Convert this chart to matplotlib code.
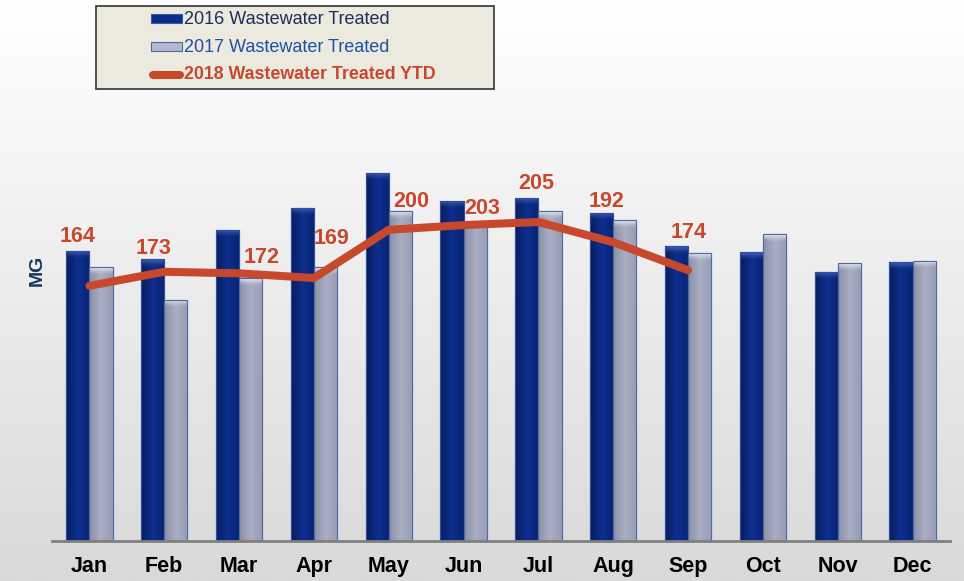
import numpy as np
import matplotlib.pyplot as plt
from matplotlib.colors import LinearSegmentedColormap, to_rgb
from matplotlib.patches import Rectangle
from matplotlib.lines import Line2D

# values (MG)
months = ['Jan', 'Feb', 'Mar', 'Apr', 'May', 'Jun', 'Jul', 'Aug', 'Sep', 'Oct', 'Nov', 'Dec']
ww_2016 = [186.5, 181, 200, 214, 236.5, 218.5, 220.5, 211, 189.5, 185.5, 173, 179]
ww_2017 = [176, 155, 169, 176, 212, 205, 212, 206, 185, 197, 178.5, 180]
ww_2018 = [164, 173, 172, 169, 200, 203, 205, 192, 174]
# where each 2018 label sits relative to its point (pixels)
label_dx = [-12, -11, 23, 18, 22, 19, -2, -7, 1]
label_dy = [49, 23, 16, 40, 28, 17, 38, 41, 38]

plt.rcParams['font.family'] = ['Liberation Sans', 'DejaVu Sans']

RED = '#c8482e'

fig = plt.figure(figsize=(9.64, 5.81), dpi=100)

# background gradient, white to light gray
bg = fig.add_axes([0, 0, 1, 1], zorder=-10)
bg_cmap = LinearSegmentedColormap.from_list('bg', ['#d9d9d9', '#ececec', '#ffffff'])
bg.imshow(np.linspace(0, 1, 256).reshape(-1, 1), aspect='auto', cmap=bg_cmap,
          extent=(0, 1, 0, 1), origin='lower')
bg.axis('off')

ax = fig.add_axes([52 / 964, 40 / 581, 898 / 964, 441 / 581])
ax.patch.set_alpha(0)

x = np.arange(len(months))
w = 0.31


def shade_bar(patch, edge, mid, right, top):
    # paint a small gradient image inside the bar, lighter cap on top
    x0, y0 = patch.get_x(), patch.get_y()
    bw, bh = patch.get_width(), patch.get_height()
    nrows = max(int(bh * 2), 2)
    cols = np.linspace(0, 1, 24)
    e, m, r, t = (np.array(to_rgb(c)) for c in (edge, mid, right, top))
    prof = np.where(cols[:, None] < 0.5,
                    e + (m - e) * (cols[:, None] / 0.5),
                    m + (r - m) * ((cols[:, None] - 0.5) / 0.5))
    img = np.repeat(prof[None, :, :], nrows, axis=0)
    cap = 10  # rows (~5 MG) for the top highlight
    for k in range(min(cap, nrows)):
        a = (1 - k / cap) ** 1.5 * 0.85
        img[nrows - 1 - k] = img[nrows - 1 - k] * (1 - a) + t * a
    im = ax.imshow(img, extent=(x0, x0 + bw, y0, y0 + bh), origin='lower',
                   aspect='auto', zorder=2.1, interpolation='bilinear')
    im.set_clip_path(patch)


bars16 = ax.bar(x - w / 2, ww_2016, w, color='#0c2c8a', edgecolor='#2f4f9e',
                lw=0.8, zorder=2)
bars17 = ax.bar(x + w / 2, ww_2017, w, color='#a2a6bc', edgecolor='#4a6aa8',
                lw=0.8, zorder=2)
for p in bars16:
    shade_bar(p, '#081e5c', '#0d2f90', '#092470', '#4d6cc0')
for p in bars17:
    shade_bar(p, '#8c90a8', '#aaaec4', '#989cb2', '#f2f3f8')
for p in list(bars16) + list(bars17):
    ax.add_patch(Rectangle((p.get_x(), 0), p.get_width(), p.get_height(),
                           fill=False, edgecolor=p.get_edgecolor(), lw=0.8,
                           zorder=2.2))

ax.plot(x[:len(ww_2018)], ww_2018, color=RED, lw=5.8, solid_capstyle='round',
        zorder=3)
for i, v in enumerate(ww_2018):
    ax.annotate(str(v), (i, v), xytext=(label_dx[i], label_dy[i]),
                textcoords='offset pixels', ha='center', va='center',
                fontsize=15.5, fontweight='bold', color=RED, zorder=4)

ax.set_xlim(-0.5, 11.5)
ax.set_ylim(0, 283.4)
ax.set_xticks(x, months)
ax.set_yticks([])
ax.tick_params(axis='x', length=0, pad=11, labelsize=15.5)
for lab in ax.get_xticklabels():
    lab.set_fontweight('bold')
for s in ['left', 'top', 'right']:
    ax.spines[s].set_visible(False)
ax.spines['bottom'].set_color('#808080')
ax.spines['bottom'].set_linewidth(2)
ax.spines['bottom'].set_zorder(5)

fig.text(37 / 964, 1 - 270 / 581, 'MG', rotation=90, ha='center', va='center',
         fontsize=14, fontweight='bold', color='#17365d')

# legend box drawn by hand to match the original layout
W, H = 964, 581
fig.add_artist(Rectangle((96 / W, 1 - 89 / H), 398 / W, 83 / H,
                         transform=fig.transFigure, facecolor='#ece9de',
                         edgecolor='#333333', lw=1.2, zorder=6))
fig.add_artist(Rectangle((151 / W, 1 - 23 / H), 31 / W, 9 / H,
                         transform=fig.transFigure, facecolor='#0c2c8a',
                         edgecolor='#3a5aa8', lw=0.8, zorder=7))
fig.add_artist(Rectangle((151 / W, 1 - 51 / H), 31 / W, 9 / H,
                         transform=fig.transFigure, facecolor='#b4b8cc',
                         edgecolor='#4a6aa8', lw=0.8, zorder=7))
fig.add_artist(Line2D([153 / W, 180 / W], [1 - 75 / H, 1 - 75 / H],
                      transform=fig.transFigure, color=RED, lw=5.8,
                      solid_capstyle='round', zorder=7))
fig.text(184 / W, 1 - 19 / H, '2016 Wastewater Treated', ha='left', va='center',
         fontsize=13, color='#1a2f5a', zorder=8)
fig.text(184 / W, 1 - 47 / H, '2017 Wastewater Treated', ha='left', va='center',
         fontsize=13, color='#1f4fa8', zorder=8)
fig.text(184 / W, 1 - 74 / H, '2018 Wastewater Treated YTD', ha='left',
         va='center', fontsize=12.8, fontweight='bold', color=RED, zorder=8)

fig.savefig('out.png', dpi=100)
